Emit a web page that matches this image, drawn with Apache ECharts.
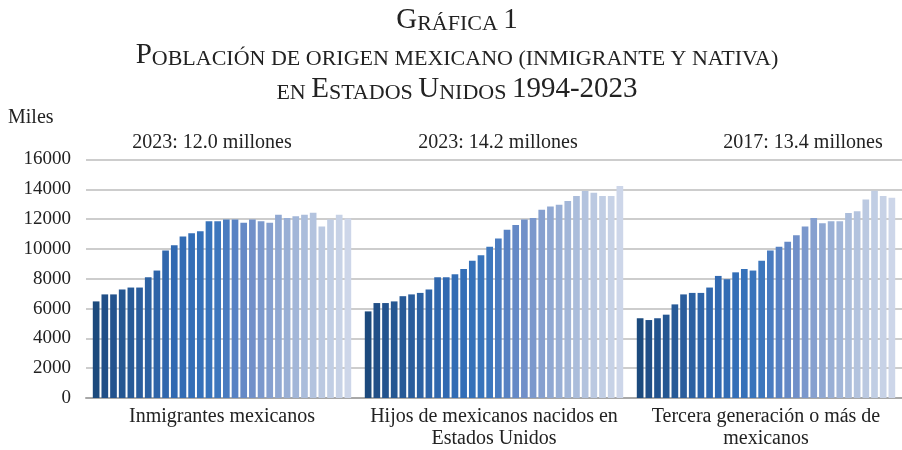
<!DOCTYPE html>
<html>
<head>
<meta charset="utf-8">
<script src="https://cdn.jsdelivr.net/npm/echarts@6/dist/echarts.min.js"></script>
<style>
html,body{margin:0;padding:0;background:#fff;}
#chart{width:902px;height:450px;}
</style>
</head>
<body>
<div id="chart"></div>
<script>
// ---- data ----
var years = ['1994','1995','1996','1997','1998','1999','2000','2001','2002','2003',
             '2004','2005','2006','2007','2008','2009','2010','2011','2012','2013',
             '2014','2015','2016','2017','2018','2019','2020','2021','2022','2023'];
var categories = ['Inmigrantes mexicanos', 'Hijos de mexicanos nacidos en\nEstados Unidos', 'Tercera generación o más de\nmexicanos'];
var inmigrantes = [6480, 6950, 6950, 7280, 7410, 7410, 8100, 8550, 9900, 10250,
                   10830, 11050, 11190, 11850, 11850, 11970, 11970, 11750, 11970, 11850,
                   11750, 12300, 12080, 12190, 12300, 12430, 11500, 11970, 12300, 12050];
var hijos = [5810, 6370, 6370, 6480, 6830, 6950, 7050, 7280, 8100, 8100,
             8300, 8650, 9210, 9570, 10150, 10700, 11280, 11610, 11970, 12080,
             12630, 12850, 12970, 13210, 13550, 13880, 13770, 13550, 13550, 14230];
var tercera = [5350, 5230, 5350, 5590, 6280, 6950, 7050, 7050, 7410, 8190,
               7970, 8430, 8650, 8550, 9210, 9900, 10150, 10480, 10920, 11500,
               12080, 11720, 11850, 11850, 12410, 12520, 13320, 13900, 13550, 13430];
var yTicks = [0, 2000, 4000, 6000, 8000, 10000, 12000, 14000, 16000];
var notes = ['2023: 12.0 millones', '2023: 14.2 millones', '2017: 13.4 millones'];

// ---- styles ----
var palette = ['#1c4a7d','#214f87','#23538e','#255792','#275a97','#2a5d9c','#2c61a2','#2e64a8','#3067ad','#3169b1',
               '#326cb4','#336eb7','#3571b9','#3874bb','#3d77bd','#4a7cc0','#5882c3','#6589c6','#7190c9','#7b98cc',
               '#86a0cf','#90a8d2','#99afd5','#a2b6d8','#abbddb','#b3c3de','#bbc9e1','#c1cee4','#c7d2e6','#cdd6e9'];
var FONT = '"Liberation Serif", "Times New Roman", serif';
var TXT = '#222';

var chart = echarts.init(document.getElementById('chart'), null, {renderer: 'canvas'});

var series = years.map(function (y, i) {
  return {
    type: 'bar',
    name: y,
    data: [inmigrantes[i], hijos[i], tercera[i]],
    itemStyle: {color: palette[i]},
    barGap: '30%',
    barCategoryGap: '5%',
    animation: false
  };
});

var richBig = {fontSize: 29, fontFamily: FONT, color: TXT, verticalAlign: 'bottom'};
var richSmall = {fontSize: 22, fontFamily: FONT, color: TXT, verticalAlign: 'bottom'};

function titleLine(text, y) {
  return {
    type: 'text', x: 457, y: y, z: 10,
    style: {
      text: text,
      rich: {a: richBig, b: richSmall},
      align: 'center', verticalAlign: 'bottom',
      fontFamily: FONT, fill: TXT
    }
  };
}

var graphics = [
  titleLine('{a|G}{b|RÁFICA }{a|1}', 35),
  titleLine('{a|P}{b|OBLACIÓN DE ORIGEN MEXICANO (INMIGRANTE Y NATIVA)}', 70),
  titleLine('{b|EN }{a|E}{b|STADOS }{a|U}{b|NIDOS }{a|1994-2023}', 104),
  {type: 'text', x: 8, y: 118, style: {text: 'Miles', font: '20px ' + FONT, fill: TXT, align: 'left', verticalAlign: 'middle'}}
];
var noteX = [212, 498, 803];
notes.forEach(function (t, i) {
  graphics.push({type: 'text', x: noteX[i], y: 143, style: {text: t, font: '20px ' + FONT, fill: TXT, align: 'center', verticalAlign: 'middle'}});
});

chart.setOption({
  animation: false,
  backgroundColor: '#fff',
  grid: {left: 86, top: 159.5, width: 820, height: 240, containLabel: false},
  xAxis: {
    type: 'category',
    data: categories,
    axisLine: {lineStyle: {color: '#a8a8a8', width: 2}},
    axisTick: {show: false},
    axisLabel: {interval: 0, margin: 8, fontSize: 20, lineHeight: 22, fontFamily: FONT, color: TXT, align: 'center'}
  },
  yAxis: {
    type: 'value',
    min: yTicks[0],
    max: yTicks[yTicks.length - 1],
    interval: yTicks[1] - yTicks[0],
    axisLine: {show: false},
    axisTick: {show: false},
    axisLabel: {margin: 15, fontSize: 19, fontFamily: FONT, color: TXT, formatter: function (v) { return String(v); }},
    splitLine: {lineStyle: {color: '#bdbdbd', width: 1.5}}
  },
  series: series,
  graphic: graphics
});
</script>
</body>
</html>
